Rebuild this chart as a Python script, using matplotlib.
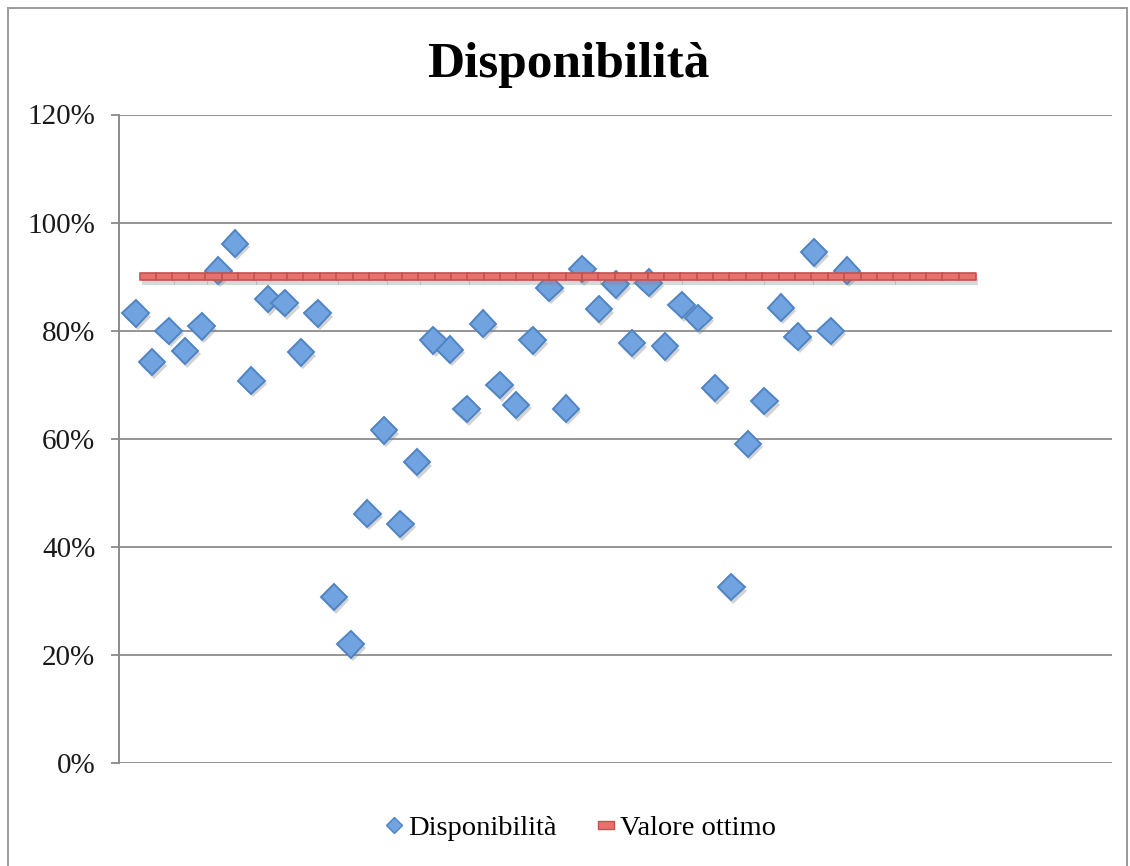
import numpy as np
import matplotlib
matplotlib.use("Agg")
import matplotlib.pyplot as plt
from matplotlib.path import Path
from matplotlib.lines import Line2D
from matplotlib.patches import Rectangle
from matplotlib.ticker import PercentFormatter
import matplotlib.patheffects as pe

# Availability per period and the target value
disponibilita = [0.832, 0.742, 0.800, 0.763, 0.808, 0.911, 0.961, 0.708, 0.859, 0.851,
                 0.760, 0.832, 0.308, 0.220, 0.462, 0.616, 0.443, 0.557, 0.782, 0.765,
                 0.655, 0.813, 0.700, 0.663, 0.782, 0.880, 0.656, 0.914, 0.840, 0.886,
                 0.777, 0.889, 0.771, 0.848, 0.824, 0.694, 0.326, 0.591, 0.670, 0.843,
                 0.789, 0.945, 0.800, 0.911]
valore_ottimo = [0.90] * 51

title = "Disponibilità"
serie_labels = ["Disponibilità", "Valore ottimo"]
y_ticks = [0.0, 0.2, 0.4, 0.6, 0.8, 1.0, 1.2]

plt.rcParams["font.family"] = ["Liberation Serif", "DejaVu Serif"]

W, H = 1130, 866
fig = plt.figure(figsize=(W / 100, H / 100), dpi=100)
fig.patch.set_facecolor("white")

# outer chart border
fig.add_artist(Rectangle((8 / W, -0.02), (1127 - 8) / W, 1.02 - 8 / H,
                         transform=fig.transFigure, fill=False,
                         edgecolor="#9a9a9a", linewidth=1.4))

ax = fig.add_axes([119 / W, 1 - 763.3 / H, (1112 - 119) / W, (763.3 - 114.5) / H])
ax.set_xlim(0, 60)
ax.set_ylim(0, 1.2)

# diamond series
x_disp = np.arange(1, len(disponibilita) + 1)
shadow = [pe.SimplePatchShadow(offset=(1.5, -2.5), shadow_rgbFace="#808080", alpha=0.35),
          pe.Normal()]
ax.plot(x_disp, disponibilita, linestyle="none", marker="D", markersize=13.5,
        markerfacecolor="#72a3e1", markeredgecolor="#4f84c4", markeredgewidth=1.4,
        path_effects=shadow, zorder=3, clip_on=False)

# target line drawn as adjoining dash markers
bar_path = Path([(-0.5, -0.22), (0.5, -0.22), (0.5, 0.22), (-0.5, 0.22), (-0.5, -0.22)],
                [Path.MOVETO, Path.LINETO, Path.LINETO, Path.LINETO, Path.CLOSEPOLY])
x_ott = np.linspace(1.75, 51.25, len(valore_ottimo))
shadow_r = [pe.SimplePatchShadow(offset=(1.5, -3.5), shadow_rgbFace="#808080", alpha=0.3),
            pe.Normal()]
ax.plot(x_ott, valore_ottimo, linestyle="none", marker=bar_path, markersize=12,
        markerfacecolor="#e6726e", markeredgecolor="#c4524f", markeredgewidth=1.2,
        path_effects=shadow_r, zorder=4, clip_on=False)

# axes styling
for s in ["top", "right", "bottom"]:
    ax.spines[s].set_visible(False)
ax.spines["left"].set_color("#8a8a8a")
ax.spines["left"].set_linewidth(1.4)
ax.set_yticks(y_ticks)
ax.yaxis.set_major_formatter(PercentFormatter(xmax=1, decimals=0))
ax.tick_params(axis="y", length=6, width=1.3, color="#8a8a8a", pad=11,
               labelsize=21, labelcolor="#1a1a1a")
ax.set_xticks([])
ax.grid(axis="y", color="#8c8c8c", linewidth=1.3)
ax.set_axisbelow(True)

fig.text(0.503, 1 - 77 / H, title, ha="center", va="baseline",
         fontsize=37, fontweight="bold", color="black")

handles = [
    Line2D([], [], linestyle="none", marker="D", markersize=8,
           markerfacecolor="#72a3e1", markeredgecolor="#4f84c4", markeredgewidth=1.0),
    Line2D([], [], linestyle="none", marker=bar_path, markersize=12,
           markerfacecolor="#e6726e", markeredgecolor="#c4524f", markeredgewidth=1.0),
]
fig.legend(handles, serie_labels, loc="center", bbox_to_anchor=(580 / W, 1 - 828 / H),
           ncol=2, frameon=False, fontsize=20.5, handlelength=0.7, handletextpad=0.15,
           columnspacing=1.4)

fig.savefig("out.png", dpi=100, facecolor="white")
